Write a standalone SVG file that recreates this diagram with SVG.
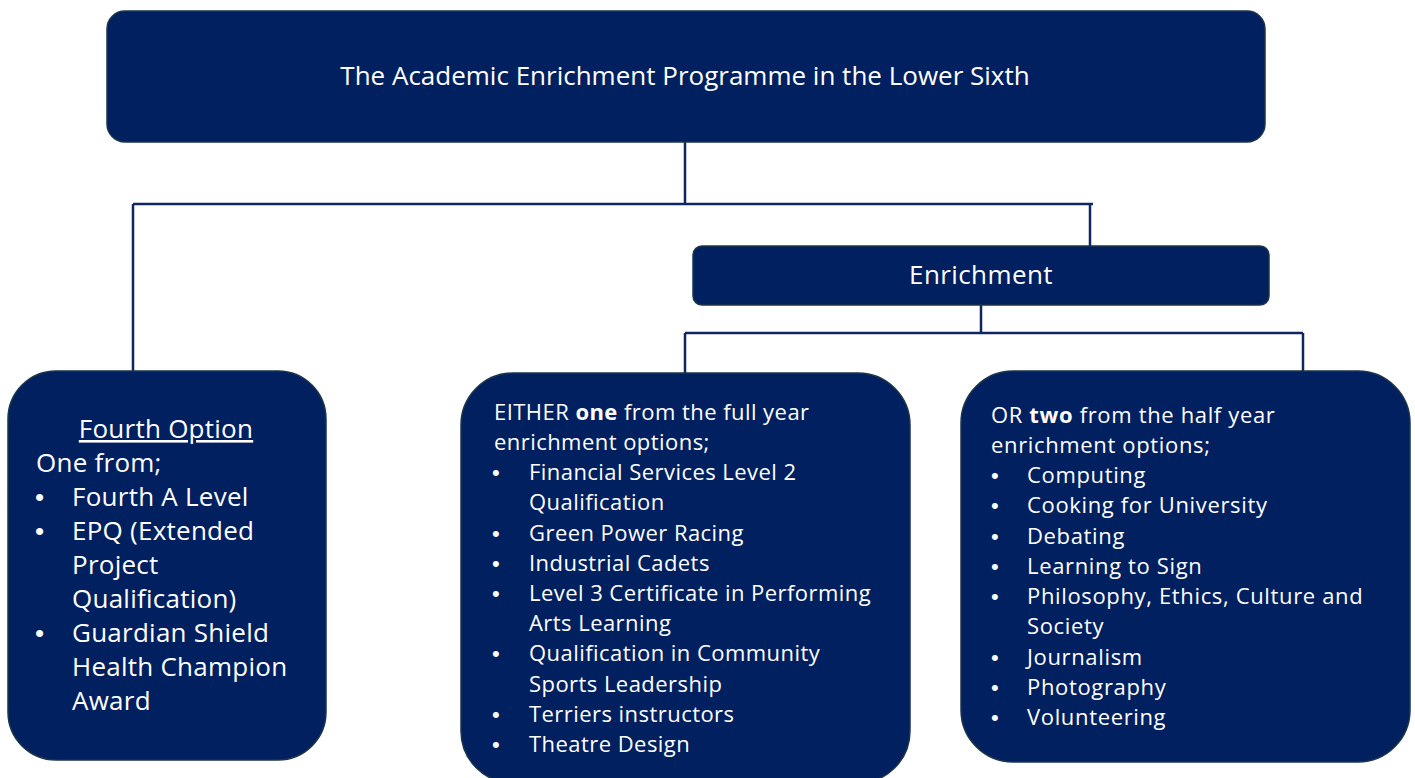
<svg xmlns="http://www.w3.org/2000/svg" width="1415" height="778" viewBox="0 0 1415 778">
<style>
.box{fill:#012060;stroke:#1c3546;stroke-width:1.5}
.con{fill:none;stroke:#0f2660;stroke-width:2.5}
text{font-family:"Open Sans","Noto Sans",sans-serif;fill:#ffffff}
.t1{font-size:26px}
.t2{font-size:26px;letter-spacing:0.25px}
.t3{font-size:22px;letter-spacing:0.45px}
.r{letter-spacing:0.65px}
.b{font-weight:bold}
.bl{font-family:"Liberation Sans",sans-serif}
</style>
<rect width="1415" height="778" fill="#ffffff"/>
<g id="connectors">
<path class="con" d="M685,142 V204 M133,204 H1093 M133,204 V372 M1090,204 V247"/>
<path class="con" d="M981,305 V333 M685,333 H1303 M685,333 V374 M1303,333 V372"/>
</g>
<g id="top">
<rect class="box" x="107" y="11" width="1158" height="131" rx="18"/>
<text class="t1" x="685" y="85" text-anchor="middle">The Academic Enrichment Programme in the Lower Sixth</text>
</g>
<g id="enrichment">
<rect class="box" x="693" y="246" width="576" height="59" rx="9"/>
<text class="t1" x="981" y="284" text-anchor="middle" letter-spacing="0.4">Enrichment</text>
</g>
<g id="fourth">
<rect class="box" x="8" y="371" width="318" height="389" rx="48"/>
<text class="t2" x="166" y="438" text-anchor="middle" text-decoration="underline">Fourth Option</text>
<text class="t2" x="36" y="472">One from;</text>
<g class="t2">
<text class="bl" x="35" y="506">•</text><text x="72" y="506">Fourth A Level</text>
<text class="bl" x="35" y="540">•</text><text x="72" y="540">EPQ (Extended</text>
<text x="72" y="574">Project</text>
<text x="72" y="608">Qualification)</text>
<text class="bl" x="35" y="642">•</text><text x="72" y="642">Guardian Shield</text>
<text x="72" y="676">Health Champion</text>
<text x="72" y="710">Award</text>
</g>
</g>
<g id="fullyear">
<rect class="box" x="461" y="373" width="449" height="410" rx="52"/>
<g class="t3">
<text x="494" y="420">EITHER <tspan class="b">one</tspan> from the full year</text>
<text x="494" y="450">enrichment options;</text>
<text class="bl" x="492" y="480">•</text><text x="529" y="480">Financial Services Level 2</text>
<text x="529" y="510">Qualification</text>
<text class="bl" x="492" y="541">•</text><text x="529" y="541">Green Power Racing</text>
<text class="bl" x="492" y="571">•</text><text x="529" y="571">Industrial Cadets</text>
<text class="bl" x="492" y="601">•</text><text x="529" y="601">Level 3 Certificate in Performing</text>
<text x="529" y="631">Arts Learning</text>
<text class="bl" x="492" y="661">•</text><text x="529" y="661">Qualification in Community</text>
<text x="529" y="692">Sports Leadership</text>
<text class="bl" x="492" y="722">•</text><text x="529" y="722">Terriers instructors</text>
<text class="bl" x="492" y="752">•</text><text x="529" y="752">Theatre Design</text>
</g>
</g>
<g id="halfyear">
<rect class="box" x="961" y="371" width="449" height="391" rx="52"/>
<g class="t3 r">
<text x="991" y="423">OR <tspan class="b">two</tspan> from the half year</text>
<text x="991" y="453">enrichment options;</text>
<text class="bl" x="991" y="483">•</text><text x="1027" y="483">Computing</text>
<text class="bl" x="991" y="513">•</text><text x="1027" y="513">Cooking for University</text>
<text class="bl" x="991" y="544">•</text><text x="1027" y="544">Debating</text>
<text class="bl" x="991" y="574">•</text><text x="1027" y="574">Learning to Sign</text>
<text class="bl" x="991" y="604">•</text><text x="1027" y="604">Philosophy, Ethics, Culture and</text>
<text x="1027" y="634">Society</text>
<text class="bl" x="991" y="665">•</text><text x="1027" y="665">Journalism</text>
<text class="bl" x="991" y="695">•</text><text x="1027" y="695">Photography</text>
<text class="bl" x="991" y="725">•</text><text x="1027" y="725">Volunteering</text>
</g>
</g>
</svg>
